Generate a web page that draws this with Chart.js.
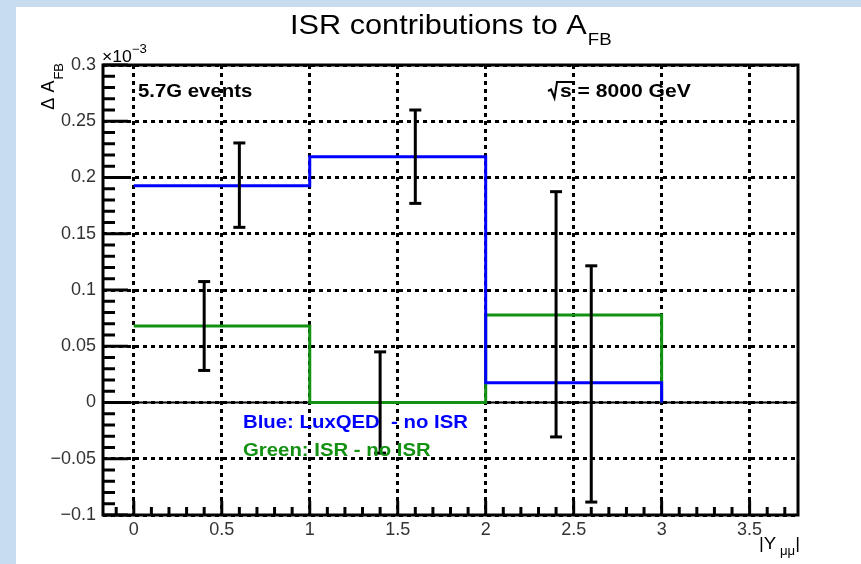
<!DOCTYPE html>
<html lang="en">
<head>
<meta charset="UTF-8">
<title>ISR contributions to AFB</title>
<script src="https://cdn.jsdelivr.net/npm/chart.js"></script>
<style>
  body { margin: 0; background: #c8dcf0; }
  #wrap { position: absolute; left: 0; top: 0; width: 861px; height: 564px; }
</style>
</head>
<body>
<div id="wrap"><canvas id="myChart"></canvas></div>
<script>
// bin edges in |Y_mumu|
const binEdges = [0, 1, 2, 3];
// Blue: LuxQED - no ISR
const blueValues = [0.1927, 0.2185, 0.0175];
// Green: ISR - no ISR
const greenValues = [0.068, 0.0, 0.0778];

// black error bars: position, centre, half size
const errX = [0.4, 0.6, 1.4, 1.6, 2.4, 2.6];
const errY = [0.068, 0.1932, 0.0, 0.2185, 0.0784, 0.0165];
const errDy = [0.0395, 0.0375, 0.045, 0.0415, 0.109, 0.105];

const xTicks = [0, 0.5, 1, 1.5, 2, 2.5, 3, 3.5];
const xTickLabels = ['0', '0.5', '1', '1.5', '2', '2.5', '3', '3.5'];
const yTicks = [-0.1, -0.05, 0, 0.05, 0.1, 0.15, 0.2, 0.25, 0.3];
const yTickLabels = ['\u22120.1', '\u22120.05', '0', '0.05', '0.1', '0.15', '0.2', '0.25', '0.3'];

const BLUE = '#0000ff';
const GREEN = '#139113';
const FONT = '"Liberation Sans", Arial, Helvetica, sans-serif';

// histogram outline as points, horizontal first then the step
function histPoints(vals) {
    const pts = vals.map((v, i) => ({x: binEdges[i], y: v}));
    pts.push({x: binEdges[binEdges.length - 1], y: 0});
    return pts;
}

// text drawn a bit wider, the picture is stretched horizontally
function wideText(c, str, x, y, font, color, sx) {
    c.save();
    c.font = font;
    c.fillStyle = color;
    c.textBaseline = 'alphabetic';
    c.textAlign = 'left';
    const w = c.measureText(str).width * sx;
    c.translate(x, y);
    c.scale(sx, 1);
    c.fillText(str, 0, 0);
    c.restore();
    return w;
}

function line(c, x1, y1, x2, y2) {
    c.beginPath();
    c.moveTo(x1, y1);
    c.lineTo(x2, y2);
    c.stroke();
}

const rootStyle = {
    id: 'rootStyle',
    beforeDraw(chart) {
        const c = chart.ctx;
        c.save();
        c.fillStyle = '#c8dcf0';
        c.fillRect(0, 0, chart.width, chart.height);
        c.fillStyle = '#ffffff';
        c.fillRect(16, 7, chart.width - 16, chart.height - 7);
        c.restore();
    },
    beforeDatasetsDraw(chart) {
        const {ctx: c, chartArea: a, scales: {y}} = chart;
        const y0 = y.getPixelForValue(0);
        c.save();
        c.strokeStyle = '#000';
        c.lineWidth = 2;
        line(c, a.left, y0, a.right, y0);
        c.restore();
    },
    afterDatasetsDraw(chart) {
        const {ctx: c, chartArea: a, scales: {x, y}} = chart;
        c.save();
        c.strokeStyle = '#000';
        c.lineCap = 'butt';

        // error bars
        c.lineWidth = 3;
        errX.forEach((xv, i) => {
            const px = x.getPixelForValue(xv);
            const top = y.getPixelForValue(errY[i] + errDy[i]);
            const bot = y.getPixelForValue(errY[i] - errDy[i]);
            line(c, px, top, px, bot);
            line(c, px - 6, top, px + 6, top);
            line(c, px - 6, bot, px + 6, bot);
        });

        // ticks inside the frame
        for (let k = 0; k <= 40; k++) {
            const p = y.getPixelForValue(-0.1 + k * 0.01);
            line(c, a.left, p, a.left + (k % 5 === 0 ? 25 : 12), p);
        }
        for (let k = -1; k <= 37; k++) {
            const p = x.getPixelForValue(k * 0.1);
            line(c, p, a.bottom, p, a.bottom - (k % 5 === 0 ? 14 : 8));
        }

        // frame
        c.lineWidth = 3;
        c.strokeRect(a.left, a.top, a.right - a.left, a.bottom - a.top);

        // title
        let w = wideText(c, 'ISR contributions to A', 290, 34, '28px ' + FONT, '#000', 1.096);
        wideText(c, 'FB', 290 + w + 1, 45, '17px ' + FONT, '#000', 1.096);

        // y axis title, rotated
        c.save();
        c.fillStyle = '#000';
        c.translate(54, 63);
        c.rotate(-Math.PI / 2);
        c.font = '18px ' + FONT;
        const wm = c.measureText('\u0394 A').width;
        c.font = '13px ' + FONT;
        const ws = c.measureText('FB').width;
        c.font = '18px ' + FONT;
        c.fillText('\u0394 A', -(wm + ws + 1), 0);
        c.font = '13px ' + FONT;
        c.fillText('FB', -ws, 9);
        c.restore();

        // x10^-3
        w = wideText(c, '\u00d710', 102, 62, '16px ' + FONT, '#000', 1.1);
        wideText(c, '\u22123', 102 + w, 53, '12px ' + FONT, '#000', 1.1);

        // x axis title
        w = wideText(c, '|Y', 759, 549, '17px ' + FONT, '#000', 1.1);
        const w2 = wideText(c, ' \u03bc\u03bc', 759 + w, 555, '12px ' + FONT, '#000', 1.1);
        wideText(c, '|', 759 + w + w2, 549, '17px ' + FONT, '#000', 1.1);

        // annotations
        wideText(c, '5.7G events', 138, 97, 'bold 18.5px ' + FONT, '#000', 1.1);
        c.lineWidth = 2;
        c.lineJoin = 'miter';
        c.beginPath();
        c.moveTo(548, 91);
        c.lineTo(551, 89.5);
        c.lineTo(554.5, 98);
        c.lineTo(557, 82);
        c.lineTo(572, 82);
        c.stroke();
        wideText(c, 's = 8000 GeV', 560, 97, 'bold 18.5px ' + FONT, '#000', 1.14);

        wideText(c, 'Blue: LuxQED  - no ISR', 243, 428, 'bold 18.5px ' + FONT, BLUE, 1.1);
        wideText(c, 'Green: ISR - no ISR', 243, 456, 'bold 18.5px ' + FONT, GREEN, 1.1);
        c.restore();
    }
};

const ctx = document.getElementById('myChart').getContext('2d');
const myChart = new Chart(ctx, {
    type: 'line',
    data: {
        datasets: [{
            label: 'LuxQED - no ISR',
            data: histPoints(blueValues),
            borderColor: BLUE,
            borderWidth: 3,
            stepped: 'before',
            pointRadius: 0,
            fill: false
        }, {
            label: 'ISR - no ISR',
            data: histPoints(greenValues),
            borderColor: GREEN,
            borderWidth: 3,
            stepped: 'before',
            pointRadius: 0,
            fill: false
        }]
    },
    options: {
        responsive: true,
        maintainAspectRatio: false,
        animation: false,
        layout: { padding: { left: 0, top: 65, right: 63, bottom: 0 } },
        plugins: {
            legend: { display: false },
            tooltip: { enabled: false }
        },
        scales: {
            x: {
                type: 'linear',
                min: -0.175,
                max: 3.775,
                afterBuildTicks: s => { s.ticks = xTicks.map(v => ({value: v})); },
                afterFit: s => { s.height = 49; },
                grid: { color: '#000', lineWidth: 3, drawTicks: false },
                border: { display: false, dash: [4, 4] },
                ticks: {
                    padding: 4,
                    color: '#333',
                    maxRotation: 0,
                    autoSkip: false,
                    font: { family: FONT, size: 18 },
                    callback: v => xTickLabels[xTicks.indexOf(v)]
                }
            },
            y: {
                min: -0.1,
                max: 0.3,
                afterBuildTicks: s => { s.ticks = yTicks.map(v => ({value: v})); },
                afterFit: s => { s.width = 103; },
                grid: { color: '#000', lineWidth: 3, drawTicks: false },
                border: { display: false, dash: [4, 4] },
                ticks: {
                    padding: 7,
                    color: '#333',
                    autoSkip: false,
                    font: { family: FONT, size: 18 },
                    callback: v => yTickLabels[yTicks.indexOf(v)]
                }
            }
        }
    },
    plugins: [rootStyle]
});
</script>
</body>
</html>
